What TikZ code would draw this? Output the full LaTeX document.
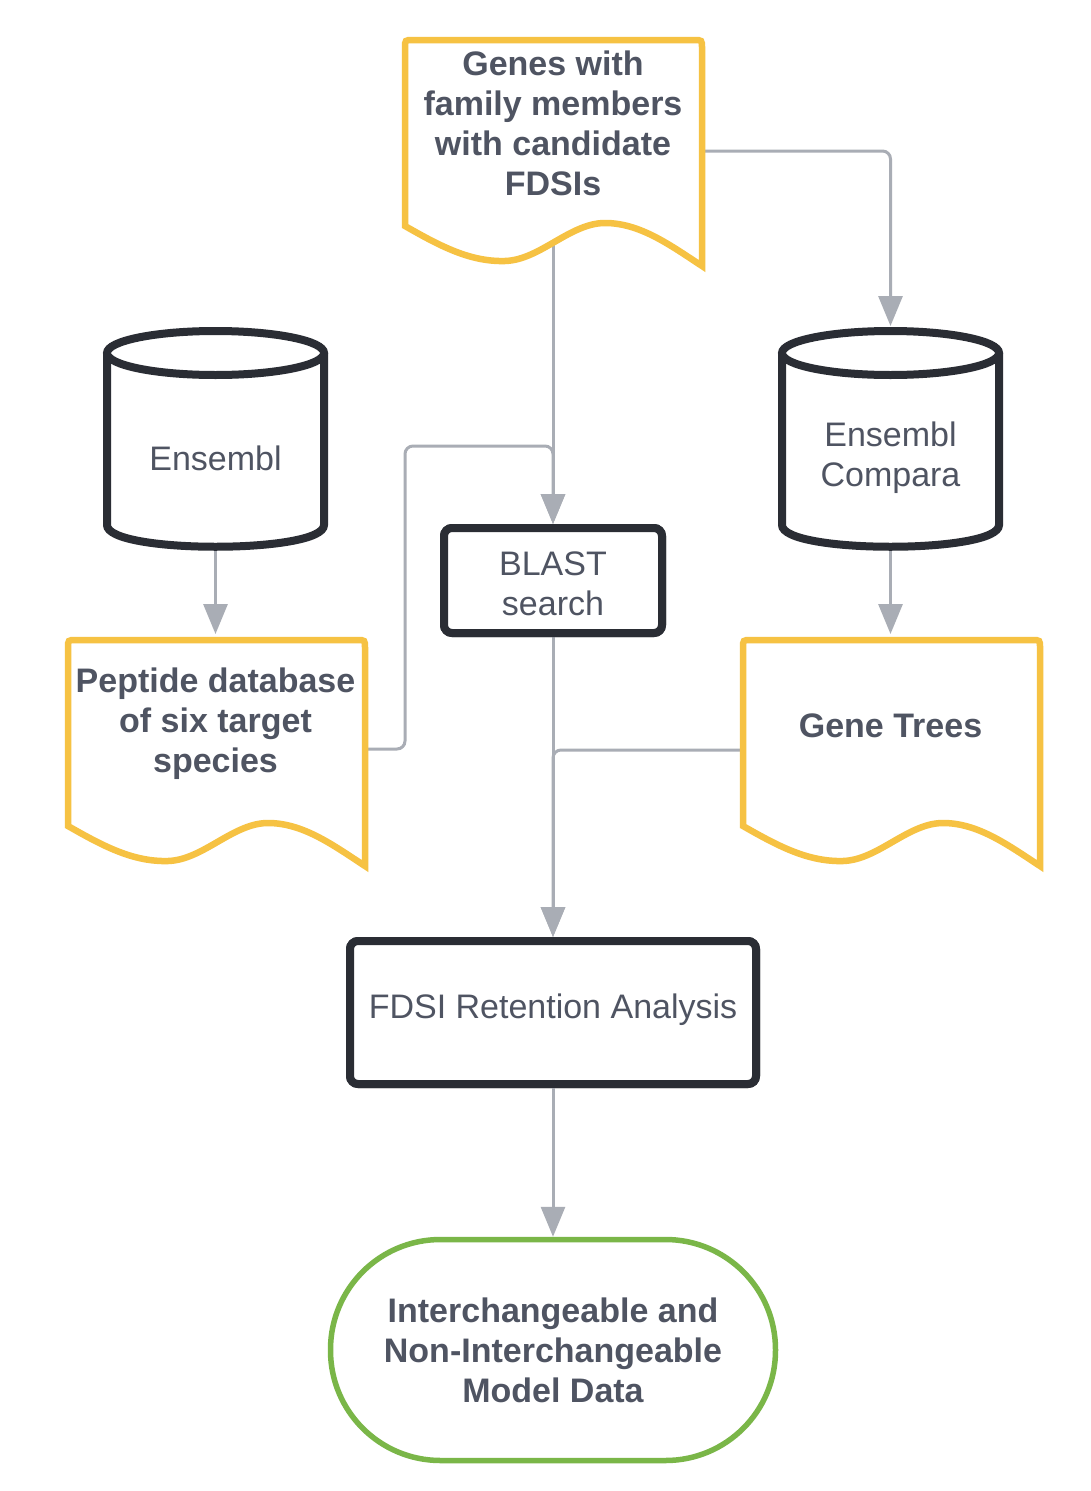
\documentclass[tikz,border=0pt]{standalone}
\usepackage{fontspec}
\setmainfont{Liberation Sans}
\usetikzlibrary{arrows.meta}
\definecolor{docY}{HTML}{F6C243}
\definecolor{boxK}{HTML}{2A2D34}
\definecolor{lineG}{HTML}{A9ADB5}
\definecolor{txtG}{HTML}{4F5462}
\definecolor{termG}{HTML}{7AB648}
\newcommand\docshape[2]{%
  \draw[docline] ({#1+297},{#2+226}) -- ({#1+297},{#2+8}) .. controls ({#1+297},{#2}) .. ({#1+289},{#2})
   -- ({#1+8},{#2}) .. controls ({#1},{#2}) .. ({#1},{#2+8}) -- ({#1},{#2+186})
   .. controls ({#1+35},{#2+206}) and ({#1+65},{#2+222}) .. ({#1+100},{#2+221})
   .. controls ({#1+135},{#2+220}) and ({#1+165},{#2+183}) .. ({#1+200},{#2+183})
   .. controls ({#1+235},{#2+183}) and ({#1+265},{#2+205}) .. ({#1+297},{#2+226}) -- cycle;}
\newcommand\cylshape[1]{%
  \draw[blackline] ({#1-108.5},353) -- ({#1-108.5},525)
   .. controls ({#1-108.5},554) and ({#1+108.5},554) .. ({#1+108.5},525) -- ({#1+108.5},353);
  \draw[blackline] (#1,353) ellipse [x radius=108.5pt, y radius=22pt];}
\begin{document}
\begin{tikzpicture}[x=1pt,y=-1pt,
  docline/.style={draw=docY,line width=6.5pt,fill=white,line join=miter},
  blackline/.style={draw=boxK,line width=8pt,fill=white},
  procbox/.style={draw=boxK,line width=8pt,fill=white,rounded corners=8pt,text=txtG,
    font=\fontsize{34}{40}\selectfont,align=center,inner sep=0pt},
  termbox/.style={draw=termG,line width=5.5pt,fill=white,rounded corners=110pt,text=txtG,
    font=\fontsize{34}{40}\selectfont\bfseries,align=center,inner sep=0pt,
    minimum width=445pt,minimum height=221pt},
  conn/.style={draw=lineG,line width=3pt,rounded corners=8pt,-{Triangle[length=30pt,width=24pt]}},
  boldtxt/.style={text=txtG,font=\fontsize{34}{40}\selectfont\bfseries,align=center,inner sep=0pt},
  regtxt/.style={text=txtG,font=\fontsize{34}{40}\selectfont,align=center,inner sep=0pt}]
\fill[white] (0,0) rectangle (1091,1491);
\useasboundingbox (0,0) rectangle (1091,1491);

% named anchor points
\coordinate (genesB) at (553,200);
\coordinate (genesR) at (702,151);
\coordinate (compT) at (890.5,326);
\coordinate (compB) at (890.5,540);
\coordinate (ensB) at (215.5,540);
\coordinate (pepT) at (215.5,634);
\coordinate (pepR) at (365,749);
\coordinate (treesT) at (890.5,634);
\coordinate (treesL) at (742,750);
\coordinate (wpA) at (405,749);
\coordinate (wpB) at (405,446);
\coordinate (wpC) at (553,446);
\coordinate (wpD) at (553,750);

% process boxes
\node[procbox,minimum width=218pt,minimum height=105pt] (blast) at (553,580.5) {};
\node[procbox,minimum width=406pt,minimum height=143pt] (fdsi) at (553,1012.5) {};

% connectors (behind shapes)
\draw[conn] (genesB) -- (blast.north);
\draw[conn] (genesR) -| (compT);
\draw[conn] (ensB) -- (pepT);
\draw[conn] (compB) -- (treesT);
\draw[conn] (pepR) -- (wpA) -- (wpB) -- (wpC) -- (blast.north);
\draw[conn] (blast.south) -- (fdsi.north);
\draw[conn] (treesL) -- (wpD) -- (fdsi.north);

% documents
\docshape{405}{40}
\docshape{68}{640}
\docshape{743}{640}

% cylinders
\cylshape{215.5}
\cylshape{890.5}

% boxes on top
\node[procbox,minimum width=218pt,minimum height=105pt] at (553,580.5) {};
\node[procbox,minimum width=406pt,minimum height=143pt] at (553,1012.5) {};
\node[termbox] (term) at (553,1350) {Interchangeable and\\Non-Interchangeable\\Model Data};
\draw[conn] (fdsi.south) -- (term.north);

% texts
\node[regtxt] (blasttxt) at (553,584) {BLAST\\search};
\node[regtxt] (fdsitxt) at (553,1010) {FDSI Retention Analysis};
\node[boldtxt] (genes) at (553,123) {Genes with\\family members\\with candidate\\FDSIs};
\node[boldtxt] (pep) at (215.5,724) {Peptide database\\of six target\\species};
\node[boldtxt] (trees) at (890.5,726) {Gene Trees};
\node[regtxt] (ens) at (215.5,458) {Ensembl};
\node[regtxt] (comp) at (890.5,458) {Ensembl\\Compara};
\end{tikzpicture}
\end{document}
